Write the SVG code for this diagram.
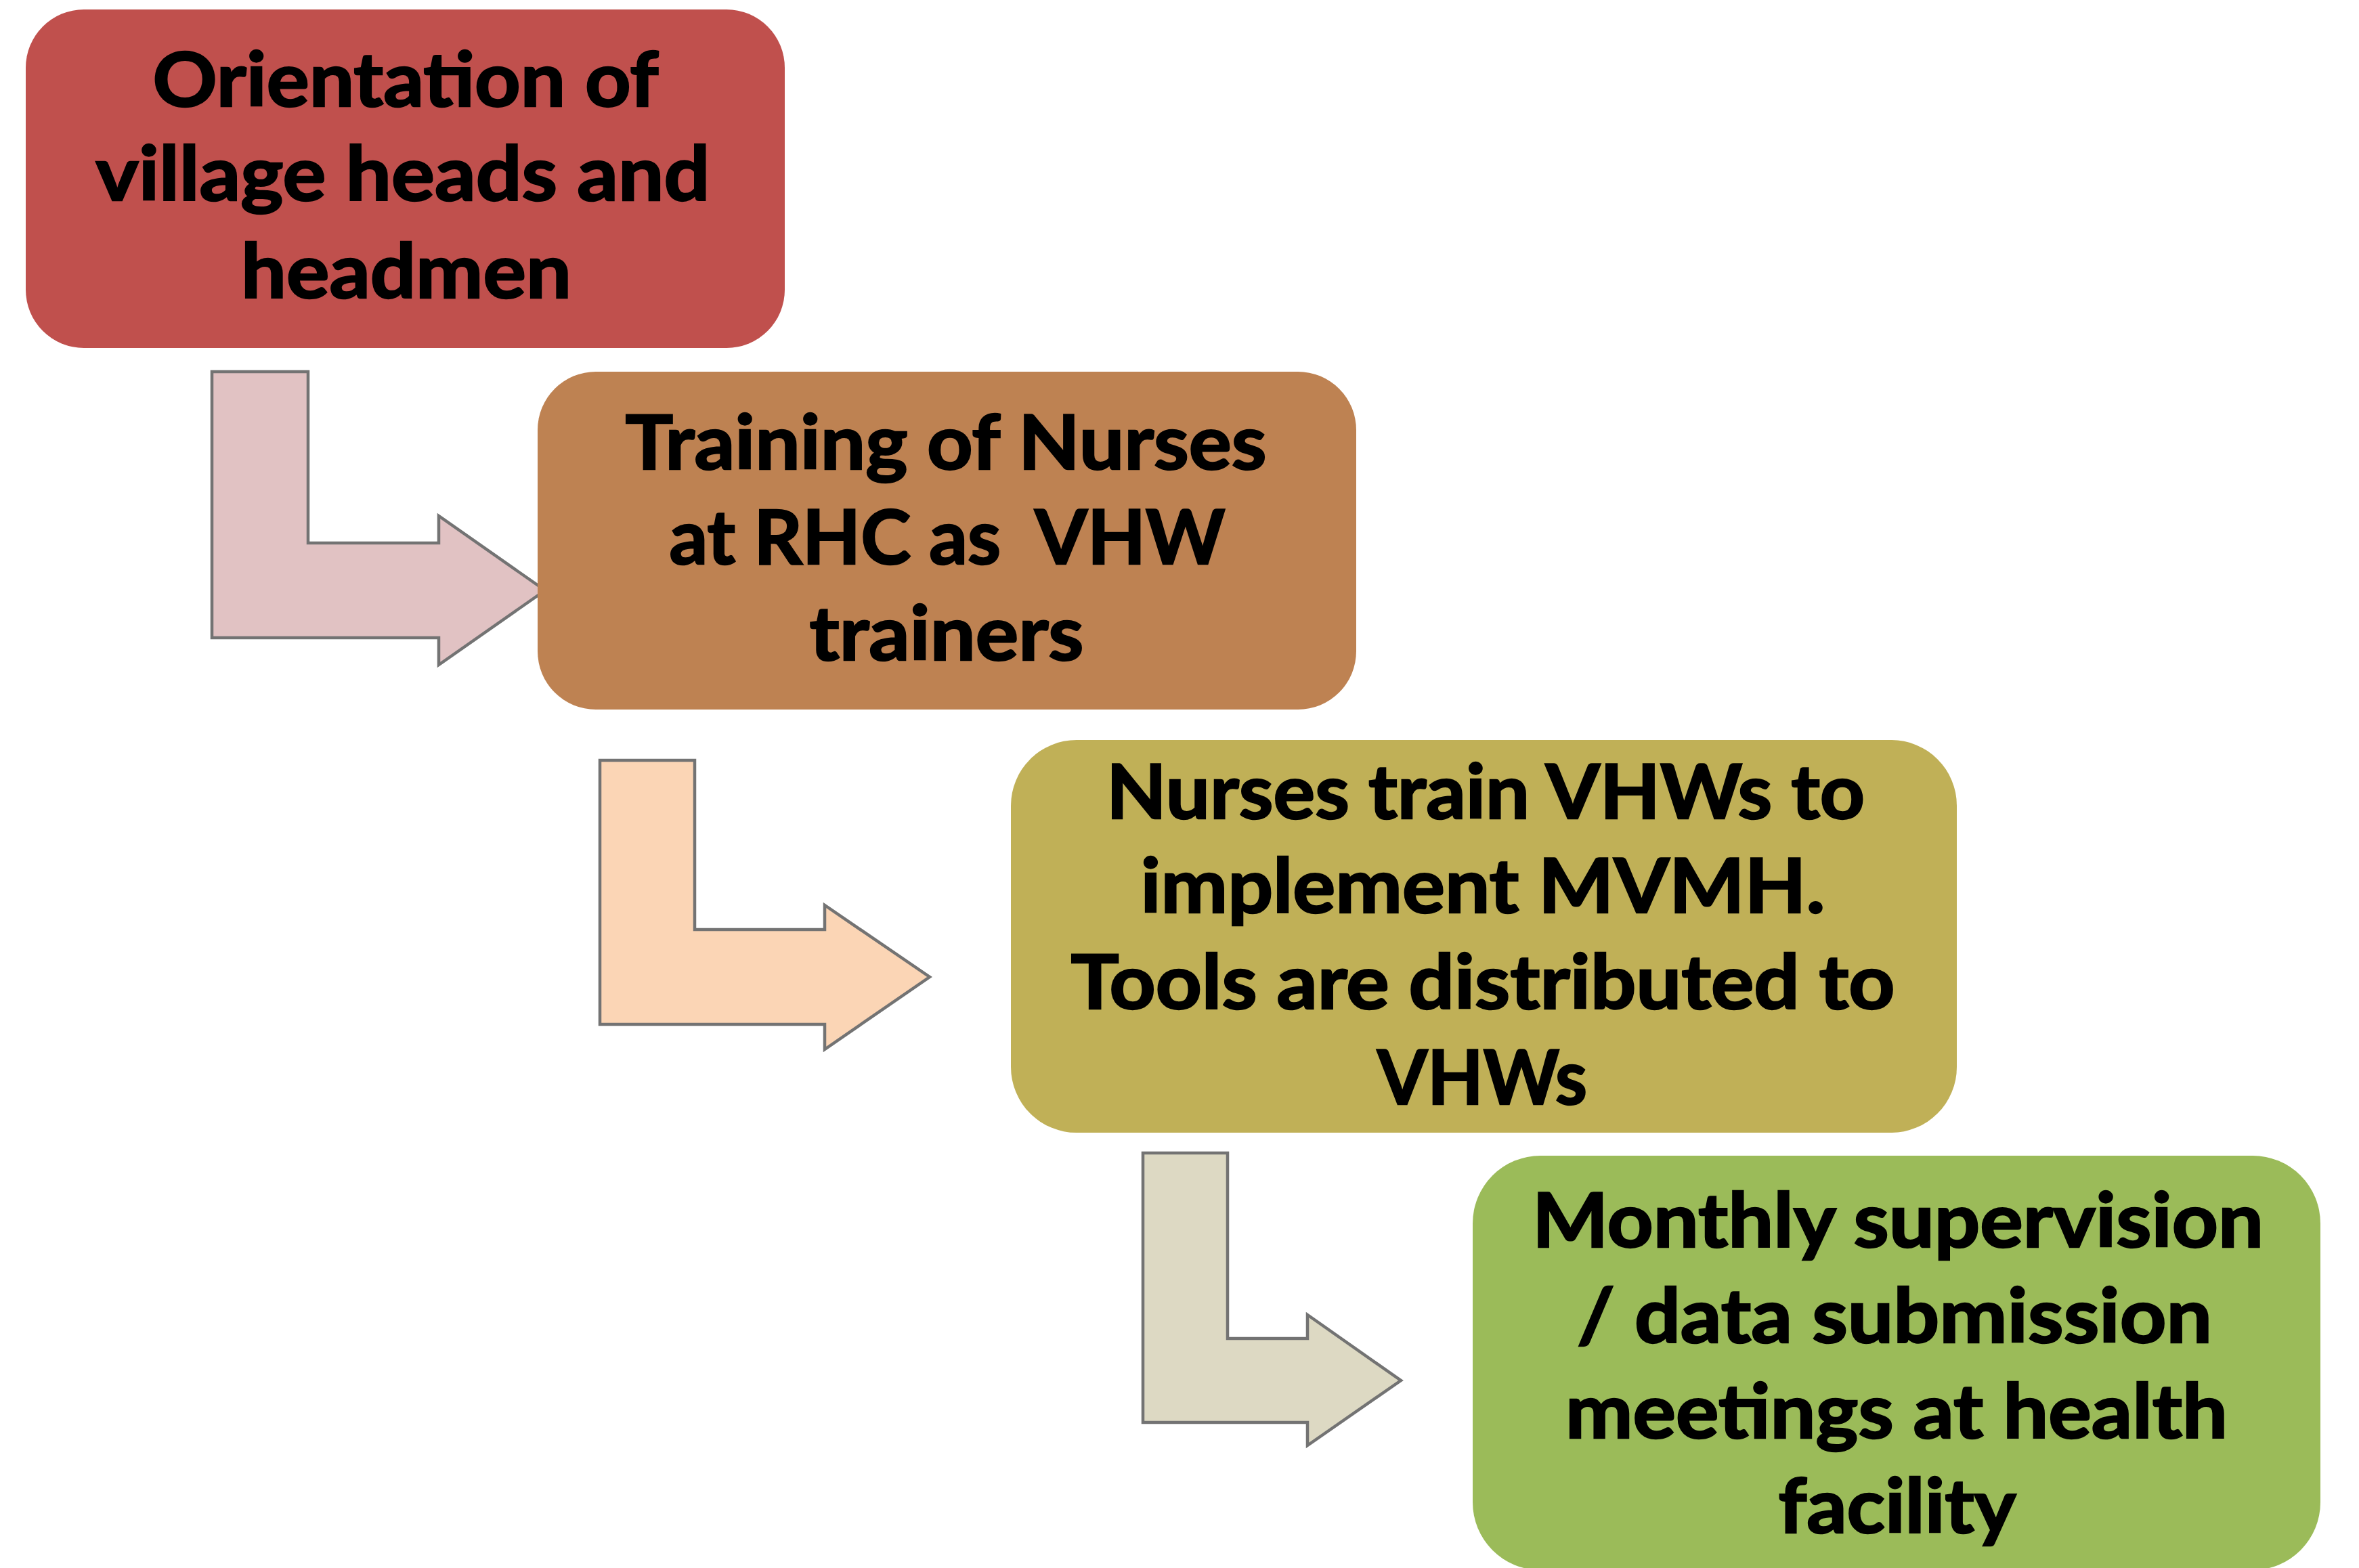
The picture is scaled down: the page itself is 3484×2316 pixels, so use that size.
<svg xmlns="http://www.w3.org/2000/svg" width="3484" height="2316" viewBox="0 0 3484 2316">
<style>
.arrow{stroke:#737373;stroke-width:4.5;stroke-linejoin:miter}
.lbl{font-family:Lato,"Open Sans","Liberation Sans",sans-serif;font-weight:700;font-size:112px;fill:#000;stroke:#000;stroke-width:2.5;text-anchor:middle}
</style>
<rect width="3484" height="2316" fill="#ffffff"/>
<g id="connectors">
<polygon class="arrow" fill="#E1C2C3" points="313,549 455,549 455,802 648,802 648,762 805,872 648,982 648,942 313,942"/>
<polygon class="arrow" fill="#FBD5B5" points="886,1123 1026,1123 1026,1373 1218,1373 1218,1337 1373,1443 1218,1550 1218,1513 886,1513"/>
<polygon class="arrow" fill="#DDD9C3" points="1688,1703 1813,1703 1813,1977 1931,1977 1931,1942 2069,2039 1931,2135 1931,2101 1688,2101"/>
</g>
<g id="node1">
<rect x="38" y="14" width="1121" height="500" rx="86" ry="86" fill="#C0504D"/>
<text class="lbl" x="599" y="157" textLength="747" lengthAdjust="spacingAndGlyphs">Orientation of</text>
<text class="lbl" x="595" y="296" textLength="907" lengthAdjust="spacingAndGlyphs">village heads and</text>
<text class="lbl" x="600" y="440" textLength="488" lengthAdjust="spacingAndGlyphs">headmen</text>
</g>
<g id="node2">
<rect x="794" y="549" width="1209" height="499" rx="86" ry="86" fill="#BE8252"/>
<text class="lbl" x="1397" y="693" textLength="947" lengthAdjust="spacingAndGlyphs">Training of Nurses</text>
<text class="lbl" x="1399" y="833" textLength="821" lengthAdjust="spacingAndGlyphs" xml:space="preserve">at RHC as  VHW</text>
<text class="lbl" x="1398" y="975" textLength="405" lengthAdjust="spacingAndGlyphs">trainers</text>
</g>
<g id="node3">
<rect x="1493" y="1093" width="1397" height="580" rx="97" ry="97" fill="#C0B057"/>
<text class="lbl" x="2194" y="1209" textLength="1120" lengthAdjust="spacingAndGlyphs">Nurses train VHWs to</text>
<text class="lbl" x="2190" y="1348" textLength="1011" lengthAdjust="spacingAndGlyphs">implement MVMH.</text>
<text class="lbl" x="2190" y="1490" textLength="1217" lengthAdjust="spacingAndGlyphs">Tools are distributed to</text>
<text class="lbl" x="2189" y="1631" textLength="310" lengthAdjust="spacingAndGlyphs">VHWs</text>
</g>
<g id="node4">
<rect x="2175" y="1707" width="1252" height="612" rx="100" ry="100" fill="#9BBB59"/>
<text class="lbl" x="2803" y="1842" textLength="1080" lengthAdjust="spacingAndGlyphs">Monthly supervision</text>
<text class="lbl" x="2798" y="1983" textLength="938" lengthAdjust="spacingAndGlyphs">/ data submission</text>
<text class="lbl" x="2801" y="2124" textLength="978" lengthAdjust="spacingAndGlyphs">meetings at health</text>
<text class="lbl" x="2802" y="2264" textLength="351" lengthAdjust="spacingAndGlyphs">facility</text>
</g>
</svg>
